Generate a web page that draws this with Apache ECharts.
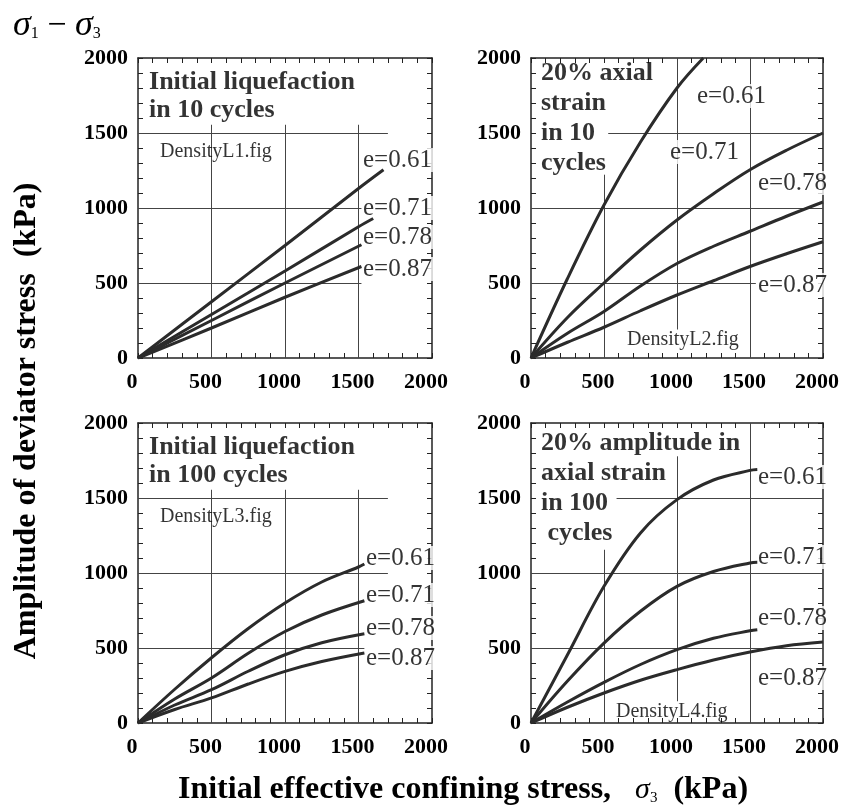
<!DOCTYPE html>
<html><head><meta charset="utf-8">
<script src="https://cdn.jsdelivr.net/npm/echarts@6/dist/echarts.min.js"></script>
<style>html,body{margin:0;padding:0;background:#fff}#c{width:852px;height:809px}</style>
</head><body><div id="c"></div>
<script>
// ---- axis settings ----
const axisMin = 0, axisMax = 2000, axisStep = 500;
const curveNames = ['e=0.61', 'e=0.71', 'e=0.78', 'e=0.87'];

// ---- Panel 1: Initial liquefaction in 10 cycles ----
const p1Title = 'Initial liquefaction\nin 10 cycles';
const p1Tag = 'DensityL1.fig';
const p1_e061 = [[0,0],[500,375],[1000,750],[1500,1130],[1670,1255]];
const p1_e071 = [[0,0],[500,290],[1000,580],[1500,875],[1600,930]];
const p1_e078 = [[0,0],[500,250],[1000,500],[1520,755]];
const p1_e087 = [[0,0],[500,200],[1000,405],[1520,610]];

// ---- Panel 2: 20% axial strain in 10 cycles ----
const p2Title = '20% axial\nstrain\nin 10\ncycles';
const p2Tag = 'DensityL2.fig';
const p2_e061 = [[0,0],[250,530],[500,1020],[750,1440],[1000,1800],[1180,2000]];
const p2_e071 = [[0,0],[250,270],[500,500],[750,720],[1000,920],[1250,1095],[1500,1255],[1750,1385],[2000,1500]];
const p2_e078 = [[0,0],[250,165],[500,310],[750,480],[1000,630],[1250,745],[1500,845],[1750,945],[2000,1040]];
const p2_e087 = [[0,0],[250,105],[500,205],[750,315],[1000,420],[1250,515],[1500,610],[1750,695],[2000,775]];

// ---- Panel 3: Initial liquefaction in 100 cycles ----
const p3Title = 'Initial liquefaction\nin 100 cycles';
const p3Tag = 'DensityL3.fig';
const p3_e061 = [[0,0],[250,225],[500,435],[750,630],[1000,800],[1250,940],[1500,1040],[1540,1060]];
const p3_e071 = [[0,0],[250,160],[500,300],[750,465],[1000,610],[1250,720],[1540,815]];
const p3_e078 = [[0,0],[250,120],[500,222],[750,345],[1000,455],[1250,535],[1540,595]];
const p3_e087 = [[0,0],[250,90],[500,167],[750,260],[1000,344],[1250,410],[1540,467]];

// ---- Panel 4: 20% amplitude in axial strain in 100 cycles ----
const p4Title = '20% amplitude in\naxial strain\nin 100\n cycles';
const p4Tag = 'DensityL4.fig';
const p4_e061 = [[0,0],[250,455],[500,911],[750,1267],[1000,1489],[1250,1620],[1500,1684],[1550,1690]];
const p4_e071 = [[0,0],[250,280],[500,533],[750,745],[1000,911],[1250,1010],[1500,1067],[1550,1071]];
const p4_e078 = [[0,0],[250,140],[500,271],[750,390],[1000,489],[1250,565],[1500,615],[1550,622]];
const p4_e087 = [[0,0],[250,105],[500,200],[750,285],[1000,356],[1250,420],[1500,473],[1750,515],[2000,540]];

// ---- label anchors (data units) ----
const p1LabelAt = [[1524,1320],[1524,1000],[1524,807],[1524,593]];
const p2LabelAt = [[1130,1747],[945,1373],[1548,1167],[1548,487]];
const p3LabelAt = [[1544,1100],[1544,853],[1544,633],[1544,433]];
const p4LabelAt = [[1548,1640],[1548,1107],[1548,700],[1548,300]];
const titleAt = [[75,1933],[68,2000],[75,1933],[68,1967]];
const tagAt = [[150,1373],[658,120],[150,1373],[582,73]];

// ---- partial grid line segments (data units) ----
const p1Grid = [[[0,1500],[1700,1500]],[[0,1000],[1520,1000]],[[0,500],[1520,500]],
  [[500,0],[500,1555]],[[1000,0],[1000,1555]],[[1500,0],[1500,1555]]];
const p2Grid = [[[529,1500],[2000,1500]],[[0,1000],[2000,1000]],[[0,500],[1540,500]],
  [[500,0],[500,1222]],[[1000,190],[1000,2000]],[[1500,0],[1500,2000]]];
const p3Grid = [[[0,1500],[1700,1500]],[[0,1000],[1700,1000]],[[0,500],[1540,500]],
  [[500,0],[500,1555]],[[1000,0],[1000,1555]],[[1500,0],[1500,1555]]];
const p4Grid = [[[586,1500],[2000,1500]],[[0,1000],[2000,1000]],[[0,500],[2000,500]],
  [[500,0],[500,1155]],[[1000,145],[1000,1778]],[[1500,0],[1500,2000]]];

const panels = [
  {curves:[p1_e061,p1_e071,p1_e078,p1_e087], labels:p1LabelAt, title:p1Title, tag:p1Tag, grid:p1Grid, lh:28},
  {curves:[p2_e061,p2_e071,p2_e078,p2_e087], labels:p2LabelAt, title:p2Title, tag:p2Tag, grid:p2Grid, lh:30},
  {curves:[p3_e061,p3_e071,p3_e078,p3_e087], labels:p3LabelAt, title:p3Title, tag:p3Tag, grid:p3Grid, lh:28},
  {curves:[p4_e061,p4_e071,p4_e078,p4_e087], labels:p4LabelAt, title:p4Title, tag:p4Tag, grid:p4Grid, lh:30}
];

const gridBoxes = [
  {left:138, top:58, width:294, height:300},
  {left:531, top:58, width:292, height:300},
  {left:138, top:423, width:294, height:300},
  {left:531, top:423, width:292, height:300}
];

const SERIF = '"Liberation Serif", "Times New Roman", serif';
const ink = '#222';

function baseAxis(gi, pos, showLabel, isX) {
  return {
    type:'value', gridIndex:gi, position:pos, min:axisMin, max:axisMax, interval:axisStep,
    axisLine:{show:true, onZero:false, lineStyle:{color:ink, width:1.5}},
    axisTick:{show:true, inside:true, length:5, lineStyle:{color:ink, width:1}},
    minorTick:{show:true, splitNumber:5, length:5, lineStyle:{color:ink, width:1}},
    splitLine:{show:false},
    axisLabel: showLabel ? (isX ? {
      show:true, fontFamily:SERIF, fontWeight:'bold', fontSize:22, color:'#000', margin:13,
      padding:[0,12,0,0], formatter: v => String(v)
    } : {
      show:true, fontFamily:SERIF, fontWeight:'bold', fontSize:22, color:'#000', margin:10,
      padding:[8,0,0,0], formatter: v => String(v)
    }) : {show:false}
  };
}

const xAxes = [], yAxes = [], series = [];
gridBoxes.forEach((g, i) => {
  xAxes.push(baseAxis(i, 'bottom', true, true));
  xAxes.push(baseAxis(i, 'top', false, true));
  yAxes.push(baseAxis(i, 'left', true, false));
  yAxes.push(baseAxis(i, 'right', false, false));
  const xi = 2*i, yi = 2*i;
  const p = panels[i];
  series.push({
    type:'lines', coordinateSystem:'cartesian2d', xAxisIndex:xi, yAxisIndex:yi, silent:true, z:1,
    lineStyle:{color:'#444', width:1, opacity:1},
    data: p.grid.map(s => ({coords:s}))
  });
  p.curves.forEach((c, k) => {
    series.push({
      type:'line', name:curveNames[k], xAxisIndex:xi, yAxisIndex:yi, data:c, smooth:0.35,
      symbol:'none', silent:true, z:3, lineStyle:{color:'#2b2b2b', width:3}
    });
  });
  series.push({
    type:'scatter', xAxisIndex:xi, yAxisIndex:yi, symbolSize:0, silent:true, z:2, clip:false,
    data: p.labels.map((a, k) => ({value:a, name:curveNames[k]})),
    label:{show:true, formatter:'{b}', position:[0,0], align:'left', verticalAlign:'middle',
      fontFamily:SERIF, fontSize:25, color:'#000', backgroundColor:'#fff', lineHeight:24, padding:[0,1]}
  });
  series.push({
    type:'scatter', xAxisIndex:xi, yAxisIndex:yi, symbolSize:0, silent:true, z:2, clip:false,
    data: [{value:titleAt[i], name:p.title}],
    label:{show:true, formatter:'{b}', position:[0,0], align:'left', verticalAlign:'top',
      fontFamily:SERIF, fontWeight:'bold', fontSize:26, lineHeight:p.lh, color:'#000'}
  });
  series.push({
    type:'scatter', xAxisIndex:xi, yAxisIndex:yi, symbolSize:0, silent:true, z:2, clip:false,
    data: [{value:tagAt[i], name:p.tag}],
    label:{show:true, formatter:'{b}', position:[0,0], align:'left', verticalAlign:'middle',
      fontFamily:SERIF, fontSize:20, color:'#000'}
  });
});

const option = {
  animation:false,
  backgroundColor:'#fff',
  grid: gridBoxes,
  xAxis: xAxes,
  yAxis: yAxes,
  series: series,
  graphic: [
    {type:'text', left:13, top:8, silent:true, style:{
      text:'{s|σ}{sub|1}{m| − }{s|σ}{sub|3}',
      rich:{
        s:{fontFamily:SERIF, fontStyle:'italic', fontSize:36, fill:'#000', lineHeight:38},
        m:{fontFamily:SERIF, fontSize:34, fill:'#000', lineHeight:38},
        sub:{fontFamily:SERIF, fontSize:16, fill:'#000', verticalAlign:'bottom', lineHeight:18, padding:[0,0,3,0]}
      }}},
    {type:'text', x:27, y:421, rotation:Math.PI/2, silent:true, style:{
      text:'Amplitude of deviator stress  (kPa)', fontFamily:SERIF, fontWeight:'bold', fontSize:32,
      fill:'#000', align:'center', verticalAlign:'middle'}},
    {type:'text', x:463, y:790, silent:true, style:{
      text:'{b|Initial effective confining stress,   }{s|σ}{sub|3}{b|  (kPa)}',
      align:'center', verticalAlign:'middle',
      rich:{
        b:{fontFamily:SERIF, fontWeight:'bold', fontSize:32, fill:'#000', lineHeight:36},
        s:{fontFamily:SERIF, fontStyle:'italic', fontSize:30, fill:'#000', lineHeight:36},
        sub:{fontFamily:SERIF, fontSize:15, fill:'#000', verticalAlign:'bottom', lineHeight:18, padding:[0,0,2,0]}
      }}}
  ]
};

const chart = echarts.init(document.getElementById('c'), null, {renderer:'canvas'});
chart.setOption(option);
</script>
</body></html>
